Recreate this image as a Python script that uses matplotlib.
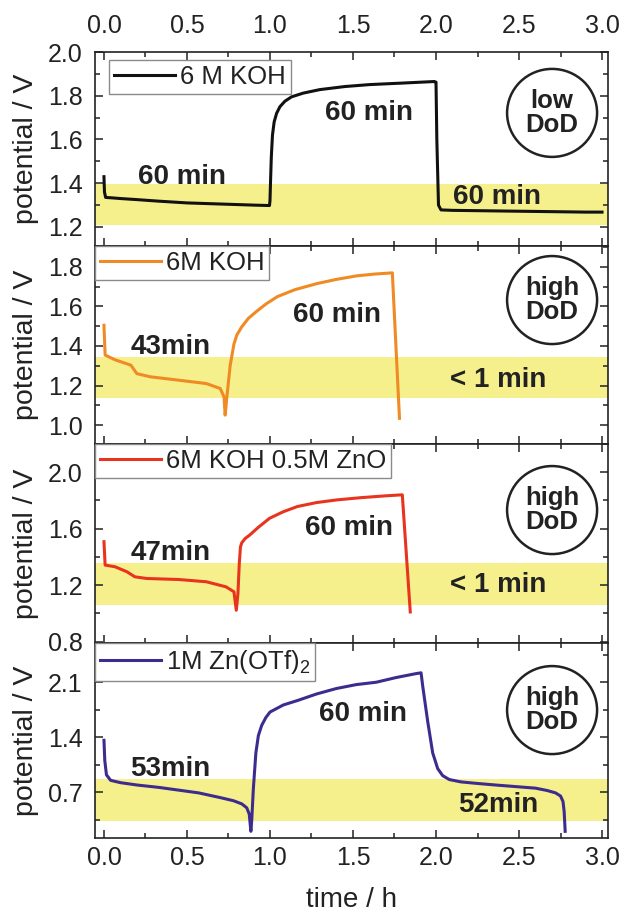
import matplotlib
matplotlib.use('Agg')
import matplotlib.pyplot as plt
from matplotlib.patches import Ellipse
from matplotlib.ticker import MultipleLocator

plt.rcParams['font.family'] = ['Liberation Sans', 'DejaVu Sans']
plt.rcParams['mathtext.fontset'] = 'custom'
plt.rcParams['mathtext.rm'] = 'Liberation Sans'

#----- data (time / h, potential / V)
t_koh_low = [0.0, 0.003, 0.01, 0.05, 0.1, 0.2, 0.33, 0.5, 0.7, 0.9, 0.997, 1.0, 1.003, 1.008,
             1.015, 1.025, 1.04, 1.06, 1.09, 1.13, 1.2, 1.3, 1.45, 1.6, 1.8, 1.99, 2.0, 2.005,
             2.015, 2.03, 2.1, 2.3, 2.5, 2.7, 2.9, 3.0]
v_koh_low = [1.43, 1.36, 1.335, 1.333, 1.33, 1.325, 1.318, 1.31, 1.305, 1.30, 1.298, 1.32, 1.40, 1.52,
             1.62, 1.68, 1.72, 1.75, 1.775, 1.795, 1.812, 1.828, 1.842, 1.851, 1.858, 1.865, 1.862, 1.6,
             1.3, 1.278, 1.276, 1.274, 1.272, 1.27, 1.268, 1.268]

t_koh = [0.0, 0.007, 0.067, 0.162, 0.198, 0.28, 0.449, 0.616, 0.70, 0.723, 0.73, 0.74, 0.76,
         0.783, 0.80, 0.83, 0.87, 0.926, 0.98, 1.045, 1.15, 1.284, 1.40, 1.523, 1.63, 1.737, 1.78]
v_koh = [1.505, 1.354, 1.33, 1.303, 1.26, 1.244, 1.227, 1.21, 1.185, 1.143, 1.05, 1.14, 1.30,
         1.41, 1.455, 1.497, 1.54, 1.58, 1.615, 1.65, 1.685, 1.716, 1.737, 1.755, 1.764, 1.77, 1.034]

t_zno = [0.0, 0.007, 0.067, 0.138, 0.186, 0.258, 0.449, 0.616, 0.735, 0.783, 0.797, 0.807,
         0.815, 0.822, 0.83, 0.85, 0.878, 0.93, 0.998, 1.08, 1.165, 1.28, 1.403, 1.55, 1.7,
         1.797, 1.845]
v_zno = [1.508, 1.342, 1.33, 1.295, 1.259, 1.247, 1.24, 1.224, 1.188, 1.153, 1.022, 1.14,
         1.35, 1.47, 1.50, 1.53, 1.555, 1.61, 1.674, 1.72, 1.757, 1.785, 1.804, 1.82, 1.833,
         1.84, 1.01]

t_otf = [0.0, 0.005, 0.015, 0.04, 0.1, 0.2, 0.33, 0.45, 0.57, 0.7, 0.78, 0.83, 0.86, 0.875,
         0.885, 0.89, 0.9, 0.915, 0.93, 0.95, 0.975, 1.0, 1.08, 1.17, 1.28, 1.40, 1.52, 1.64,
         1.76, 1.88, 1.91, 1.92, 1.95, 1.98, 2.01, 2.04, 2.08, 2.15, 2.25, 2.36, 2.48, 2.6,
         2.67, 2.72, 2.75, 2.765, 2.772, 2.778]
v_otf = [1.36, 1.1, 0.92, 0.85, 0.82, 0.79, 0.76, 0.725, 0.69, 0.63, 0.59, 0.55, 0.5, 0.42,
         0.2, 0.34, 0.75, 1.2, 1.42, 1.55, 1.65, 1.72, 1.81, 1.87, 1.95, 2.02, 2.07, 2.1,
         2.16, 2.21, 2.22, 2.05, 1.6, 1.2, 1.0, 0.91, 0.86, 0.83, 0.81, 0.79, 0.77, 0.75,
         0.72, 0.69, 0.65, 0.58, 0.45, 0.2]

labels = ['6 M KOH', '6M KOH', '6M KOH 0.5M ZnO', r'1M Zn(OTf)$_{\mathregular{2}}$']
colors = ['#111111', '#F08A24', '#E8341F', '#3D2B8E']
dod = ['low\nDoD', 'high\nDoD', 'high\nDoD', 'high\nDoD']
bands = [(1.208, 1.396), (1.137, 1.345), (1.058, 1.355), (0.331, 0.862)]
ylims = [(1.113, 2.0), (0.904, 1.906), (0.79, 2.2), (0.115, 2.6)]
ymajor = [0.2, 0.2, 0.4, 0.7]
yminor = [0.1, 0.1, 0.2, 0.35]
notes = [[('60 min', 0.47, 1.427), ('60 min', 1.594, 1.72), ('60 min', 2.37, 1.336)],
         [('43min', 0.40, 1.396), ('60 min', 1.403, 1.556), ('< 1 min', 2.375, 1.227)],
         [('47min', 0.40, 1.425), ('60 min', 1.475, 1.603), ('< 1 min', 2.375, 1.2)],
         [('53min', 0.40, 1.0), ('60 min', 1.56, 1.70), ('52min', 2.375, 0.535)]]

series = [(t_koh_low, v_koh_low), (t_koh, v_koh), (t_zno, v_zno), (t_otf, v_otf)]

#----- layout (pixels of a 622x916 picture)
W, H = 622, 916
tops = [52, 246, 444, 643]
bots = [246, 444, 643, 838]
x0, x1 = 95, 608
circ_y = [0.686, 0.727, 0.668, 0.656]

fig = plt.figure(figsize=(W/100, H/100), dpi=100)
txt = '#222222'

for k in range(4):
    ax = fig.add_axes([x0/W, 1 - bots[k]/H, (x1-x0)/W, (bots[k]-tops[k])/H])
    ax.axhspan(bands[k][0], bands[k][1], color='#F6F08C', lw=0, zorder=0)
    t, v = series[k]
    ax.plot(t, v, color=colors[k], lw=2.2, label=labels[k], solid_joinstyle='round', zorder=3)
    ax.set_xlim(-0.054, 3.036)
    ax.set_ylim(*ylims[k])
    ax.xaxis.set_major_locator(MultipleLocator(0.5))
    ax.xaxis.set_minor_locator(MultipleLocator(0.25))
    ax.yaxis.set_major_locator(MultipleLocator(ymajor[k]))
    ax.yaxis.set_minor_locator(MultipleLocator(yminor[k]))
    ax.tick_params(which='both', direction='in', top=True, right=True, width=1.1,
                   labelsize=18, colors=txt, pad=9)
    ax.tick_params(which='major', length=6)
    ax.tick_params(which='minor', length=3.5)
    ax.tick_params(axis='x', labelbottom=(k == 3), labeltop=(k == 0))
    if k == 0:
        ax.tick_params(axis='x', pad=10)
    else:
        ax.tick_params(axis='x', pad=6)
    for s in ax.spines.values():
        s.set_linewidth(1.2)
        s.set_color(txt)
    ax.set_ylabel('potential / V', fontsize=20.5, color=txt)
    ax.yaxis.set_label_coords(-0.11, 0.5)

    for s_, xx, yy in notes[k]:
        ax.text(xx, yy, s_, fontsize=20, fontweight='bold', color=txt, ha='center', va='center', zorder=4)

    ah = bots[k] - tops[k]
    ax.add_patch(Ellipse((0.891, circ_y[k]), 90/(x1-x0), 88/ah, transform=ax.transAxes,
                         fill=False, lw=1.8, ec=txt, zorder=4))
    ax.text(0.891, circ_y[k], dod[k], transform=ax.transAxes, fontsize=18.5, fontweight='bold',
            color=txt, ha='center', va='center', linespacing=1.0, zorder=4)

    # legend box: inset in the top panel, flush with the corner in the others
    if k == 0:
        anchor = (14/(x1-x0), 1 - 8/ah)
    else:
        anchor = (0, 1)
    leg = ax.legend(loc='upper left', bbox_to_anchor=anchor, borderaxespad=0, fontsize=18.5,
                    handlelength=2.35, handletextpad=0.2, borderpad=0.2, fancybox=False,
                    framealpha=1, edgecolor='#8a8a8a')
    leg.get_frame().set_linewidth(1.0)
    for tx in leg.get_texts():
        tx.set_color(txt)
    if k == 3:
        ax.set_xlabel('time / h', fontsize=20, color=txt, labelpad=12)

plt.savefig('out.png', dpi=100)
